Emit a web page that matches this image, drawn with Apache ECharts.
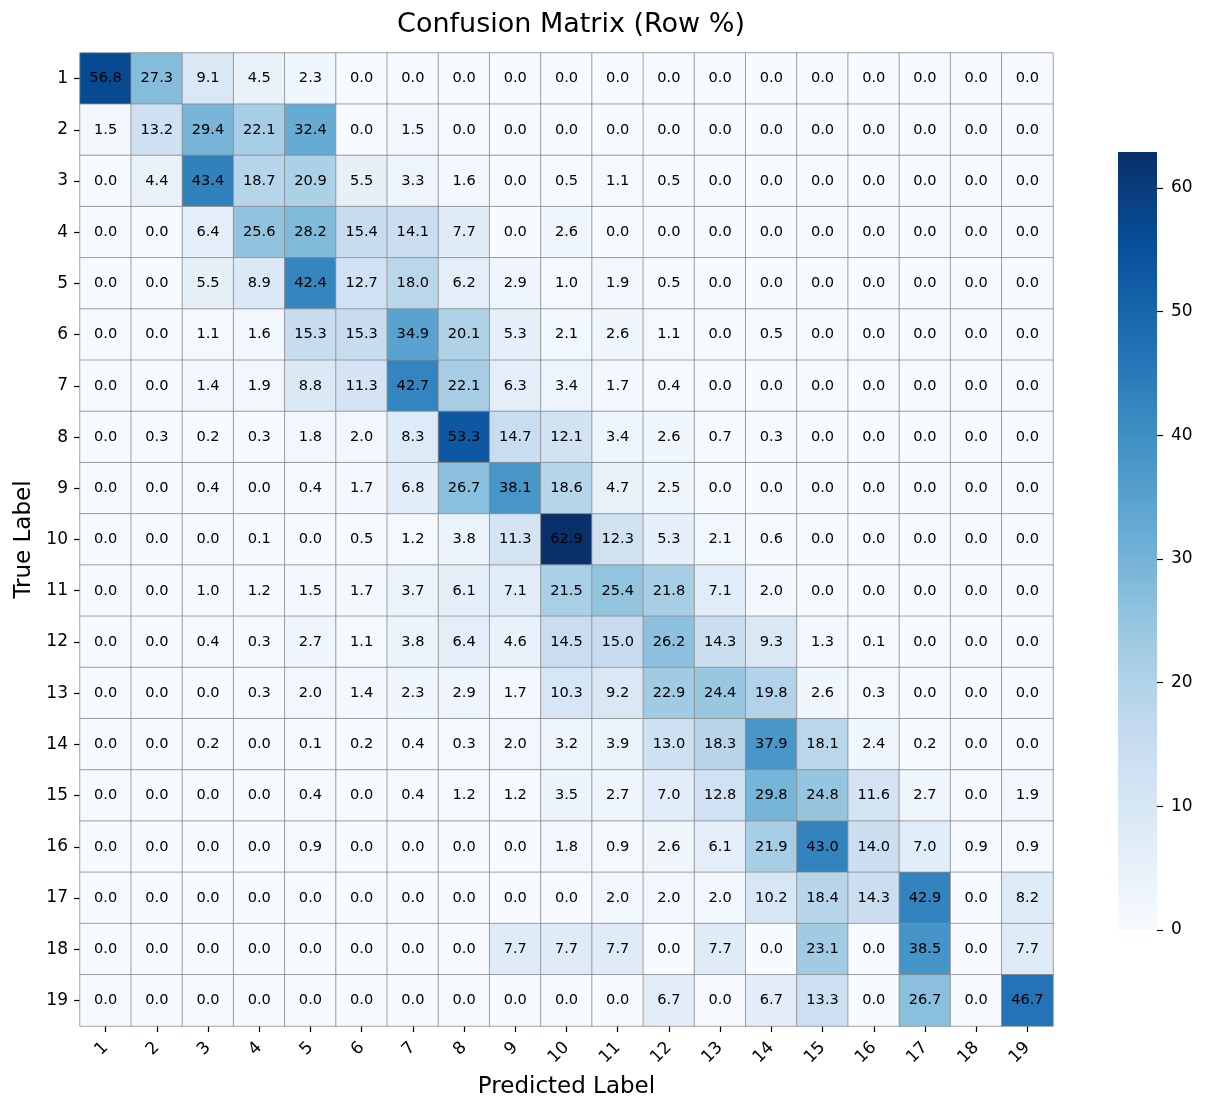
<!DOCTYPE html>
<html>
<head>
<meta charset="utf-8">
<script src="https://cdn.jsdelivr.net/npm/echarts@6/dist/echarts.min.js"></script>
<style>
  html, body { margin: 0; padding: 0; background: #ffffff; }
  #chart { width: 1205px; height: 1101px; }
</style>
</head>
<body>
<div id="chart"></div>
<script>
// Category labels (true rows top->bottom, predicted columns left->right)
const trueLabels = ['1','2','3','4','5','6','7','8','9','10','11','12','13','14','15','16','17','18','19'];
const predLabels = ['1','2','3','4','5','6','7','8','9','10','11','12','13','14','15','16','17','18','19'];

// Row-normalised percentages, one array per true label
const row01 = [56.8,27.3,9.1,4.5,2.3,0,0,0,0,0,0,0,0,0,0,0,0,0,0];
const row02 = [1.5,13.2,29.4,22.1,32.4,0,1.5,0,0,0,0,0,0,0,0,0,0,0,0];
const row03 = [0,4.4,43.4,18.7,20.9,5.5,3.3,1.6,0,0.5,1.1,0.5,0,0,0,0,0,0,0];
const row04 = [0,0,6.4,25.6,28.2,15.4,14.1,7.7,0,2.6,0,0,0,0,0,0,0,0,0];
const row05 = [0,0,5.5,8.9,42.4,12.7,18.0,6.2,2.9,1.0,1.9,0.5,0,0,0,0,0,0,0];
const row06 = [0,0,1.1,1.6,15.3,15.3,34.9,20.1,5.3,2.1,2.6,1.1,0,0.5,0,0,0,0,0];
const row07 = [0,0,1.4,1.9,8.8,11.3,42.7,22.1,6.3,3.4,1.7,0.4,0,0,0,0,0,0,0];
const row08 = [0,0.3,0.2,0.3,1.8,2.0,8.3,53.3,14.7,12.1,3.4,2.6,0.7,0.3,0,0,0,0,0];
const row09 = [0,0,0.4,0,0.4,1.7,6.8,26.7,38.1,18.6,4.7,2.5,0,0,0,0,0,0,0];
const row10 = [0,0,0,0.1,0,0.5,1.2,3.8,11.3,62.9,12.3,5.3,2.1,0.6,0,0,0,0,0];
const row11 = [0,0,1.0,1.2,1.5,1.7,3.7,6.1,7.1,21.5,25.4,21.8,7.1,2.0,0,0,0,0,0];
const row12 = [0,0,0.4,0.3,2.7,1.1,3.8,6.4,4.6,14.5,15.0,26.2,14.3,9.3,1.3,0.1,0,0,0];
const row13 = [0,0,0,0.3,2.0,1.4,2.3,2.9,1.7,10.3,9.2,22.9,24.4,19.8,2.6,0.3,0,0,0];
const row14 = [0,0,0.2,0,0.1,0.2,0.4,0.3,2.0,3.2,3.9,13.0,18.3,37.9,18.1,2.4,0.2,0,0];
const row15 = [0,0,0,0,0.4,0,0.4,1.2,1.2,3.5,2.7,7.0,12.8,29.8,24.8,11.6,2.7,0,1.9];
const row16 = [0,0,0,0,0.9,0,0,0,0,1.8,0.9,2.6,6.1,21.9,43.0,14.0,7.0,0.9,0.9];
const row17 = [0,0,0,0,0,0,0,0,0,0,2.0,2.0,2.0,10.2,18.4,14.3,42.9,0,8.2];
const row18 = [0,0,0,0,0,0,0,0,7.7,7.7,7.7,0,7.7,0,23.1,0,38.5,0,7.7];
const row19 = [0,0,0,0,0,0,0,0,0,0,0,6.7,0,6.7,13.3,0,26.7,0,46.7];

const colorbarTicks = [0, 10, 20, 30, 40, 50, 60];

const rows = [row01,row02,row03,row04,row05,row06,row07,row08,row09,row10,
              row11,row12,row13,row14,row15,row16,row17,row18,row19];

const heatData = [];
rows.forEach((r, yi) => r.forEach((v, xi) => heatData.push([xi, yi, v])));
const vmax = Math.max(...heatData.map(d => d[2]));

const blues = ['#f7fbff','#deebf7','#c6dbef','#9ecae1','#6baed6','#4292c6','#2171b5','#08519c','#08306b'];
const FONT = 'DejaVu Sans';
const barGradient = new echarts.graphic.LinearGradient(0, 1, 0, 0,
  blues.map((c, i) => ({ offset: i / (blues.length - 1), color: c })));

const chart = echarts.init(document.getElementById('chart'), null, { renderer: 'canvas' });
chart.setOption({
  backgroundColor: '#ffffff',
  animation: false,
  textStyle: { fontFamily: FONT, color: '#000' },
  title: {
    text: 'Confusion Matrix (Row %)',
    left: 566, top: 6, textAlign: 'center',
    textStyle: { fontFamily: FONT, fontSize: 27, fontWeight: 'normal', color: '#000' }
  },
  grid: [
    { left: 80, top: 53, width: 973, height: 973, containLabel: false, outerBoundsMode: 'none' },
    { left: 1118, top: 152, width: 39, height: 778, show: true, containLabel: false,
      outerBoundsMode: 'none', backgroundColor: barGradient, borderWidth: 0 }
  ],
  xAxis: [
    {
      type: 'category', data: predLabels, gridIndex: 0, position: 'bottom',
      axisLine: { show: false },
      axisTick: { show: true, alignWithLabel: true, length: 6, lineStyle: { color: '#000', width: 1.2 } },
      axisLabel: { rotate: 45, fontFamily: FONT, fontSize: 17, color: '#000', margin: 19, interval: 0 },
      splitLine: { show: false },
      name: 'Predicted Label', nameLocation: 'middle', nameGap: 50,
      nameTextStyle: { fontFamily: FONT, fontSize: 23, color: '#000' }
    },
    { type: 'category', data: [''], gridIndex: 1, show: false }
  ],
  yAxis: [
    {
      type: 'category', data: trueLabels, gridIndex: 0, inverse: true,
      axisLine: { show: false },
      axisTick: { show: true, alignWithLabel: true, length: 6, lineStyle: { color: '#000', width: 1.2 } },
      axisLabel: { fontFamily: FONT, fontSize: 17, color: '#000', margin: 12, interval: 0 },
      splitLine: { show: false },
      name: 'True Label', nameLocation: 'middle', nameGap: 43, nameRotate: 90,
      nameTextStyle: { fontFamily: FONT, fontSize: 23, color: '#000' }
    },
    {
      type: 'value', gridIndex: 1, position: 'right', min: 0, max: vmax, interval: 10,
      axisLine: { show: false, onZero: false },
      axisTick: { show: true, inside: false, length: 6, customValues: colorbarTicks,
        lineStyle: { color: '#000', width: 1.2 } },
      axisLabel: { fontFamily: FONT, fontSize: 17, color: '#000', margin: 14, inside: false,
        customValues: colorbarTicks,
        formatter: v => colorbarTicks.includes(v) ? String(v) : '' },
      splitLine: { show: false }
    }
  ],
  visualMap: {
    type: 'continuous', show: false, seriesIndex: 0, min: 0, max: vmax,
    inRange: { color: blues }
  },
  series: [{
    type: 'heatmap', xAxisIndex: 0, yAxisIndex: 0, data: heatData,
    itemStyle: { borderColor: '#8a8a8a', borderWidth: 0.8 },
    label: {
      show: true, fontFamily: FONT, fontSize: 14.6, color: '#000',
      formatter: p => p.value[2].toFixed(1)
    },
    emphasis: { disabled: true }
  }]
});
</script>
</body>
</html>
